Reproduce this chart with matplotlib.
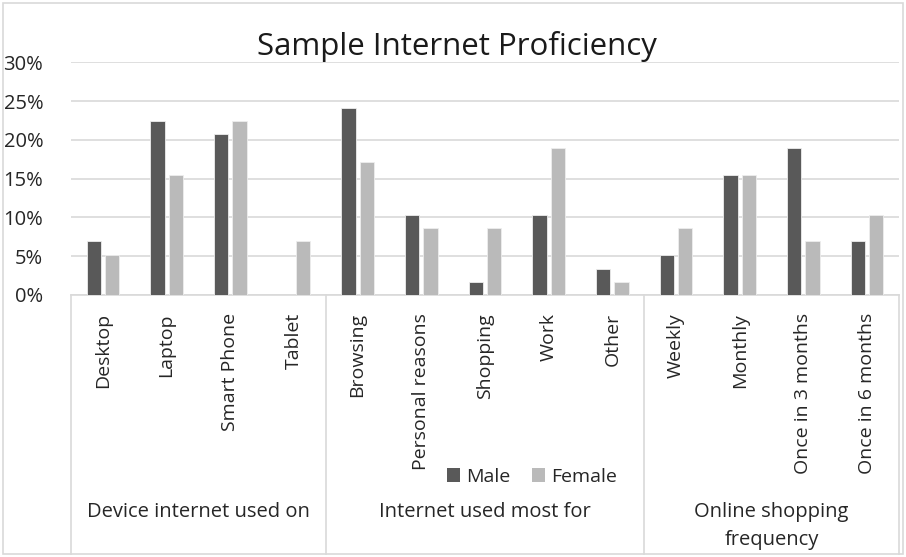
import numpy as np
import matplotlib
matplotlib.use('Agg')
import matplotlib.pyplot as plt
from matplotlib.patches import Rectangle, Patch
from matplotlib.transforms import blended_transform_factory

# --- Data ---
categories = ["Desktop", "Laptop", "Smart Phone", "Tablet",
              "Browsing", "Personal reasons", "Shopping", "Work", "Other",
              "Weekly", "Monthly", "Once in 3 months", "Once in 6 months"]
groups = ["Device internet used on", "Internet used most for",
          "Online shopping\nfrequency"]
group_sizes = [4, 5, 4]
male = [6.9, 22.4, 20.7, 0.0, 24.1, 10.3, 1.7, 10.3, 3.4, 5.2, 15.5, 19.0, 6.9]
female = [5.2, 15.5, 22.4, 6.9, 17.2, 8.6, 8.6, 19.0, 1.7, 8.6, 15.5, 6.9, 10.3]
yticks = [0, 5, 10, 15, 20, 25, 30]

plt.rcParams['font.family'] = ['Open Sans', 'DejaVu Sans']

W, H = 906, 557
fig = plt.figure(figsize=(W / 100, H / 100), dpi=100)

# plot area in pixel coords
left, right, top, bottom = 71, 899, 62.3, 295
ax = fig.add_axes([left / W, 1 - bottom / H, (right - left) / W, (bottom - top) / H])

male_c = '#595959'
female_c = '#BABABA'
grid_c = '#D9D9D9'
text_c = '#262626'

x = np.arange(len(categories))
bw = 0.225
off = 0.144
ax.bar(x - off, male, bw, color=male_c, edgecolor='#EDEDED', linewidth=0.6, zorder=3)
ax.bar(x + off, female, bw, color=female_c, edgecolor='#EDEDED', linewidth=0.6, zorder=3)

ax.set_xlim(-0.5, len(categories) - 0.5)
ax.set_ylim(0, 30)
ax.set_yticks(yticks)
ax.set_yticklabels([f"{v}%" for v in yticks], fontsize=14.5, color=text_c)
ax.tick_params(axis='y', length=0, pad=20)
ax.yaxis.grid(True, color=grid_c, linewidth=1.2, zorder=0)
for s in ['top', 'right', 'left']:
    ax.spines[s].set_visible(False)
ax.spines['bottom'].set_color(grid_c)
ax.spines['bottom'].set_linewidth(1.2)

ax.set_xticks(x)
ax.set_xticklabels(categories, rotation=90, fontsize=14, color=text_c, va='top')
ax.tick_params(axis='x', length=0, pad=13)

# group separators and group labels below the axis
tr = blended_transform_factory(ax.transData, ax.transAxes)
px_to_ax = 1.0 / (bottom - top)
y_low = -(554 - bottom) * px_to_ax
edges = np.concatenate([[0], np.cumsum(group_sizes)]) - 0.5
for e in edges:
    ax.plot([e, e], [0, y_low], transform=tr, color=grid_c, lw=1.2, clip_on=False)
for i, g in enumerate(groups):
    cx = (edges[i] + edges[i + 1]) / 2
    ax.text(cx, -(502 - bottom) * px_to_ax, g, transform=tr, ha='center', va='top',
            fontsize=14.5, color=text_c, linespacing=1.55)

# chart border
fig.patches.append(Rectangle((3 / W, 3 / H), (W - 6) / W, (H - 6) / H,
                             transform=fig.transFigure, fill=False,
                             edgecolor=grid_c, lw=1.2))

fig.text(457 / W, 1 - 47 / H, "Sample Internet Proficiency", ha='center', va='center',
         fontsize=22.5, color='#1a1a1a')

handles = [Patch(facecolor=male_c), Patch(facecolor=female_c)]
fig.legend(handles, ["Male", "Female"], loc='center', bbox_to_anchor=(532 / W, 1 - 477 / H),
           ncol=2, frameon=False, fontsize=14, handlelength=0.7, handleheight=0.7,
           handletextpad=0.3, columnspacing=1.1, labelcolor=text_c)

fig.savefig('out.png', dpi=100)
